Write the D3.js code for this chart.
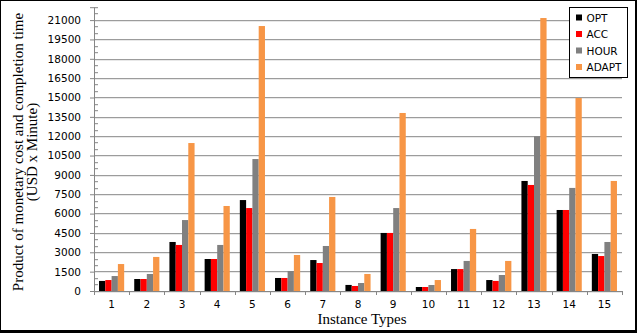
<!DOCTYPE html>
<html>
<head>
<meta charset="utf-8">
<script src="https://cdn.jsdelivr.net/npm/d3@7"></script>
<style>
  html, body { margin: 0; padding: 0; background: #fff; }
  svg text { fill: #000; }
</style>
</head>
<body>
<div class="vis-chart"></div>
<script>
const categories = ['1','2','3','4','5','6','7','8','9','10','11','12','13','14','15'];
const seriesNames = ['OPT', 'ACC', 'HOUR', 'ADAPT'];
const opt   = [780, 930, 3800, 2480, 7050, 1010, 2400, 470, 4500, 310, 1700, 850, 8530, 6280, 2870];
const acc   = [850, 930, 3570, 2480, 6430, 1010, 2170, 390, 4500, 310, 1700, 780, 8220, 6280, 2710];
const hour  = [1160, 1320, 5500, 3570, 10230, 1550, 3490, 620, 6430, 465, 2330, 1240, 12000, 7990, 3800];
const adapt = [2090, 2640, 11470, 6590, 20540, 2790, 7290, 1320, 13800, 850, 4810, 2330, 21160, 14960, 8530];
const colors = ['#000000', '#ff0000', '#808080', '#f79646'];
const yMax = 22000;
const majorStep = 1500;
const minorStep = 500;

const draw = () => {
    const W = 637, H = 333;
    const margin = { top: 7.2, right: 15, bottom: 42, left: 94 };
    const width = 622 - margin.left;
    const height = 291 - margin.top;

    const root = d3.select('.vis-chart').append('svg')
        .attr('width', W)
        .attr('height', H);

    // frame
    root.append('rect').attr('width', W).attr('height', H).attr('fill', '#000');
    root.append('rect').attr('x', 1).attr('y', 1).attr('width', 634).attr('height', 329).attr('fill', '#fff');

    const svg = root.append('g')
        .attr('transform', 'translate(' + margin.left + ',' + margin.top + ')');

    const table = categories.map((c, i) => ({
        cat: c,
        values: [opt[i], acc[i], hour[i], adapt[i]]
    }));

    const x0 = d3.scaleBand().domain(categories).range([0, width]).padding(0);
    const x1 = d3.scaleBand().domain(seriesNames).range([0, x0.bandwidth()])
        .paddingInner(0).paddingOuter(0.8);
    const y = d3.scaleLinear().domain([0, yMax]).range([height, 0]);

    const majors = d3.range(0, yMax + 1, majorStep);
    const minors = d3.range(0, yMax + 1, minorStep).filter(v => v % majorStep !== 0);

    // gridlines
    svg.append('g').selectAll('line')
        .data(majors)
        .enter().append('line')
        .attr('x1', 0).attr('x2', width)
        .attr('y1', d => Math.round(y(d)) + 0.5)
        .attr('y2', d => Math.round(y(d)) + 0.5)
        .attr('stroke', '#868686')
        .attr('stroke-width', 1);

    // bars
    const groups = svg.selectAll('.grp')
        .data(table)
        .enter().append('g')
        .attr('class', 'grp')
        .attr('transform', d => 'translate(' + x0(d.cat) + ',0)');
    groups.selectAll('rect')
        .data(d => d.values.map((v, j) => ({ key: seriesNames[j], v: v, j: j })))
        .enter().append('rect')
        .attr('x', d => x1(d.key))
        .attr('width', x1.bandwidth())
        .attr('y', d => y(d.v))
        .attr('height', d => height - y(d.v))
        .attr('fill', d => colors[d.j]);

    // Y axis
    const yAxis = svg.append('g')
        .call(d3.axisLeft(y).tickValues(majors).tickSize(4).tickPadding(9).tickFormat(d3.format('d')));
    yAxis.selectAll('text')
        .style('font-family', '"DejaVu Sans", Verdana, sans-serif')
        .style('font-size', '10.5px');
    yAxis.append('g').selectAll('line')
        .data(minors)
        .enter().append('line')
        .attr('x1', 0).attr('x2', 4)
        .attr('y1', d => Math.round(y(d)) + 0.5)
        .attr('y2', d => Math.round(y(d)) + 0.5)
        .attr('stroke', '#868686');
    yAxis.selectAll('path, line').attr('stroke', '#868686');

    // X axis
    const xAxis = svg.append('g')
        .attr('transform', 'translate(0,' + height + ')')
        .call(d3.axisBottom(x0).tickSize(0).tickPadding(10));
    xAxis.select('.domain').attr('stroke', '#868686');
    xAxis.selectAll('text')
        .style('font-family', '"DejaVu Sans", Verdana, sans-serif')
        .style('font-size', '10.5px');
    xAxis.append('g').selectAll('line')
        .data(d3.range(categories.length + 1))
        .enter().append('line')
        .attr('x1', i => Math.round(i * x0.step()) + 0.5)
        .attr('x2', i => Math.round(i * x0.step()) + 0.5)
        .attr('y1', 0).attr('y2', 4)
        .attr('stroke', '#868686');

    svg.append('text')
        .attr('text-anchor', 'middle')
        .attr('x', 268)
        .attr('y', height + 33)
        .style('font-family', '"Liberation Serif", "Times New Roman", serif')
        .style('font-size', '15px')
        .text('Instance Types');

    // Y title
    const yt = root.append('text')
        .attr('text-anchor', 'middle')
        .attr('transform', 'translate(0,152) rotate(-90)')
        .style('font-family', '"Liberation Serif", "Times New Roman", serif')
        .style('font-size', '15px');
    yt.append('tspan').attr('x', 0).attr('y', 23).text('Product of monetary cost and completion time');
    yt.append('tspan').attr('x', 0).attr('y', 37).text('(USD x Minute)');

    // Legend
    const lg = root.append('g').attr('transform', 'translate(569.5,7.5)');
    lg.append('rect').attr('width', 58).attr('height', 70)
        .attr('fill', '#fff').attr('stroke', '#000').attr('stroke-width', 1);
    const items = lg.selectAll('.li')
        .data(seriesNames)
        .enter().append('g')
        .attr('transform', (d, i) => 'translate(6,' + (7.5 + i * 16.5) + ')');
    items.append('rect').attr('width', 6).attr('height', 6)
        .attr('x', 0.5).attr('y', -0.5)
        .attr('fill', (d, i) => colors[i]);
    items.append('text')
        .attr('x', 11).attr('y', 6.5)
        .style('font-family', '"DejaVu Sans", Verdana, sans-serif')
        .style('font-size', '10.5px')
        .text(d => d);
};

draw();
</script>
</body>
</html>
